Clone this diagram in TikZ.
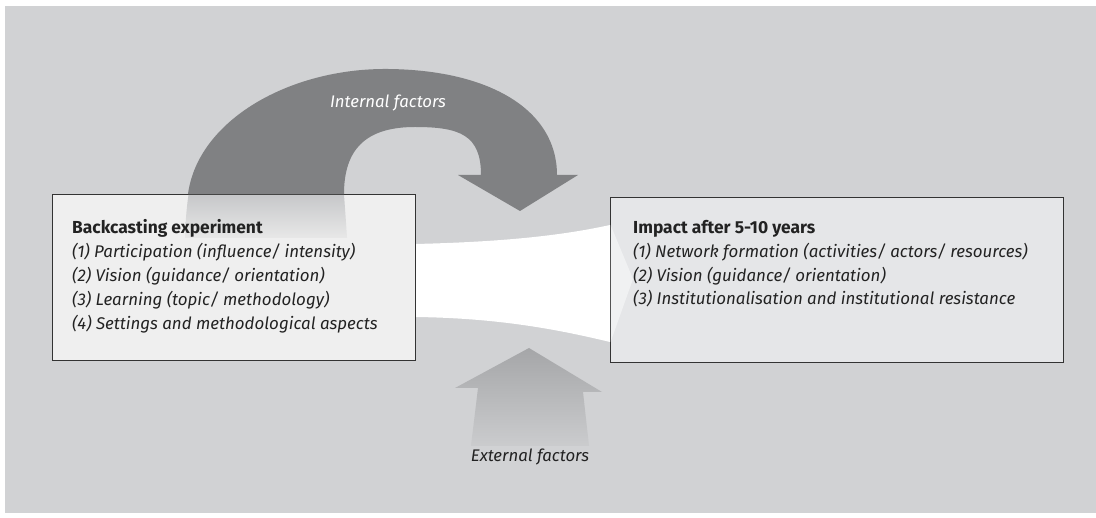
\documentclass[tikz,border=0pt]{standalone}
\usepackage{fontspec}
\setmainfont{Fira Sans}
\begin{document}
\begin{tikzpicture}[x=1pt,y=-1pt,
  bg/.style={fill=bggrey,draw=none},
  panel/.style={draw=boxline,line width=1.2pt},
  head/.style={anchor=base west,inner sep=0pt,font=\fontsize{17.4}{20}\selectfont\bfseries,text=txt},
  item/.style={anchor=base west,inner sep=0pt,font=\fontsize{16.9}{20}\selectfont\itshape,text=txt},
  flowlabel/.style={inner sep=0pt,font=\fontsize{16.8}{20}\selectfont\itshape}]
\definecolor{bggrey}{HTML}{D1D2D4}
\definecolor{arrowdark}{HTML}{808183}
\definecolor{arrowmid}{HTML}{A5A6A8}
\definecolor{leftfill}{HTML}{EFEFEF}
\definecolor{rightfill}{HTML}{E5E6E8}
\definecolor{boxline}{HTML}{333333}
\definecolor{txt}{HTML}{222222}
\useasboundingbox (0,0) rectangle (1096,518);
% background panel
\fill[bg] (5,6) rectangle (1096,513);
% internal factors: curved arrow from the experiment back into the flow
\fill[arrowdark] (188,194) .. controls (198,120) and (290,68) .. (388,69)
  .. controls (490,70) and (557,110) .. (557,175)
  -- (578,175) -- (520,211) -- (458,175) -- (481,175)
  .. controls (481,135) and (460,127) .. (415,127)
  .. controls (365,127) and (344,150) .. (344,194) -- cycle;
% white flow between the two boxes
\fill[white] (415,244) .. controls (500,242) and (560,236) .. (610,225)
  -- (610,342) .. controls (560,330) and (500,318) .. (415,317) -- cycle;
% external factors: upward arrow fading out at the bottom
\shade[top color=arrowmid,bottom color=bggrey!97!black]
  (529,348) -- (602,392) -- (583,392) -- (589,446) -- (471,446) -- (478,388) -- (455,388) -- cycle;
% boxes
\node[panel,fill=leftfill,minimum width=363pt,minimum height=166pt,anchor=north west,inner sep=0pt] (exp) at (52,194) {};
\node[panel,fill=rightfill,minimum width=453pt,minimum height=165pt,anchor=north west,inner sep=0pt] (imp) at (610,197) {};
% faded continuation of the internal arrow inside the left box
\shade[top color=bggrey!95!black,bottom color=leftfill!97!black]
  (188.5,194.8) .. controls (186.5,208) and (185.5,222) .. (185,238) -- (347,238)
  .. controls (346,222) and (345,208) .. (344,194.8) -- cycle;
% arrow tip of the flow entering the right box
\fill[white,opacity=0.45] (610.6,225) -- (633,279) -- (610.6,342) -- cycle;
% texts
\node[head] (exph) at (72,234) {Backcasting experiment};
\node[item] (exp1) at (72,258) {(1) Participation (influence/ intensity)};
\node[item] (exp2) at (72,282) {(2) Vision (guidance/ orientation)};
\node[item] (exp3) at (72,306) {(3) Learning (topic/ methodology)};
\node[item] (exp4) at (72,330) {(4) Settings and methodological aspects};
\node[head] (imph) at (633,234) {Impact after 5-10 years};
\node[item] (imp1) at (633,258) {(1) Network formation (activities/ actors/ resources)};
\node[item] (imp2) at (633,282) {(2) Vision (guidance/ orientation)};
\node[item] (imp3) at (633,305) {(3) Institutionalisation and institutional resistance};
\node[flowlabel,text=white,anchor=base] (intl) at (388,108) {Internal factors};
\node[flowlabel,text=txt,anchor=base] (extl) at (530,462) {External factors};
\end{tikzpicture}
\end{document}
